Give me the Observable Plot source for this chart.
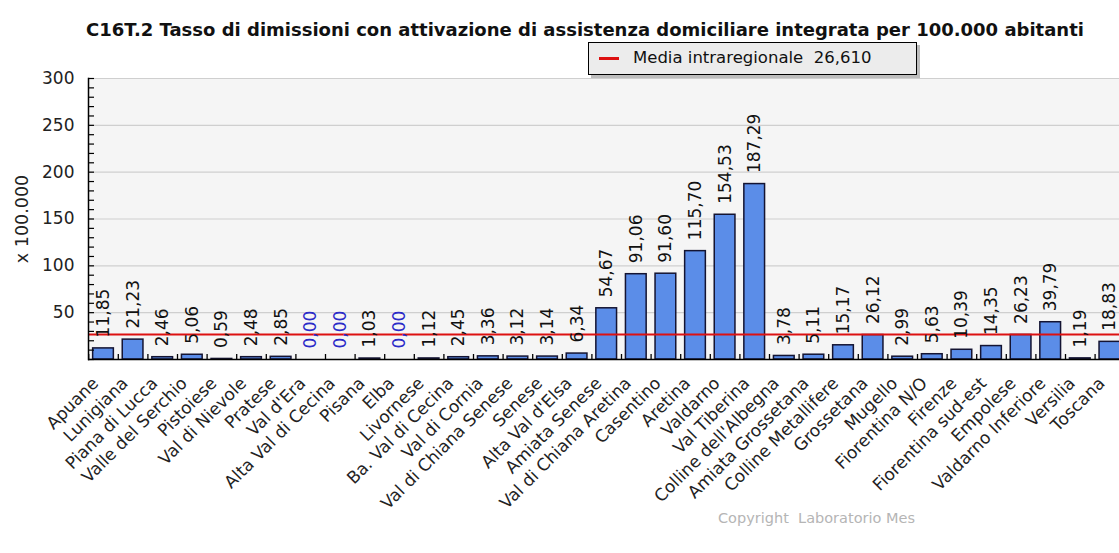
<!DOCTYPE html>
<html>
<head>
<meta charset="utf-8">
<script src="https://cdn.jsdelivr.net/npm/d3@7"></script>
<script src="https://cdn.jsdelivr.net/npm/@observablehq/plot@0.6"></script>
<style>
  html, body { margin: 0; padding: 0; background: #fff; overflow: hidden; }
  #wrap { position: relative; width: 1119px; height: 553px; font-family: "DejaVu Sans", Verdana, sans-serif; }
  #title { position: absolute; left: 0; width: 1170px; top: 19px; text-align: center; font-family: "DejaVu Sans", sans-serif; font-weight: bold; font-size: 18px; color: #111; white-space: nowrap; }
  #legend { position: absolute; left: 588px; top: 42px; width: 327px; height: 31px; background: #ececec; border: 1px solid #000; box-shadow: 3px 3px 0 #bdbdbd; font-size: 16.5px; color: #111; z-index: 2; }
  #legend .sw { position: absolute; left: 10px; top: 14px; width: 20px; height: 3px; background: #dd1111; }
  #legend .tx { position: absolute; left: 44px; top: 5px; white-space: pre; }
  #copy { position: absolute; left: 718px; top: 510px; font-size: 14.5px; color: #b5b5b5; white-space: pre; }
  #chart { position: absolute; left: 0; top: 0; }
</style>
</head>
<body>
<div id="wrap">
  <div id="chart"></div>
  <div id="title">C16T.2 Tasso di dimissioni con attivazione di assistenza domiciliare integrata per 100.000 abitanti</div>
  <div id="legend"><div class="sw"></div><div class="tx">Media intraregionale  26,610</div></div>
  <div id="copy">Copyright  Laboratorio Mes</div>
</div>
<script>
const names = ["Apuane","Lunigiana","Piana di Lucca","Valle del Serchio","Pistoiese","Val di Nievole","Pratese","Val d'Era","Alta Val di Cecina","Pisana","Elba","Livornese","Ba. Val di Cecina","Val di Cornia","Val di Chiana Senese","Senese","Alta Val d'Elsa","Amiata Senese","Val di Chiana Aretina","Casentino","Aretina","Valdarno","Val Tiberina","Colline dell'Albegna","Amiata Grossetana","Colline Metallifere","Grossetana","Mugello","Fiorentina N/O","Firenze","Fiorentina sud-est","Empolese","Valdarno Inferiore","Versilia","Toscana"];
const values = [11.85,21.23,2.46,5.06,0.59,2.48,2.85,0.00,0.00,1.03,0.00,1.12,2.45,3.36,3.12,3.14,6.34,54.67,91.06,91.60,115.70,154.53,187.29,3.78,5.11,15.17,26.12,2.99,5.63,10.39,14.35,26.23,39.79,1.19,18.83];
const meanValue = 26.61;
const yMajor = [50,100,150,200,250,300];
const yMinor = d3.range(0, 301, 10);

const data = names.map((name, i) => ({name, value: values[i]}));
const fmt = v => d3.format(".2f")(v).replace(".", ",");

const chart = Plot.plot({
  width: 1119,
  height: 553,
  marginTop: 78,
  marginBottom: 194,
  marginLeft: 88,
  marginRight: 0,
  style: {fontFamily: "DejaVu Sans, Verdana, sans-serif", fontSize: "17px", color: "#000", background: "transparent", overflow: "visible"},
  x: {domain: names, range: [88.2, 1124.2], paddingInner: 0.3, paddingOuter: 0.15, round: false, axis: null},
  y: {domain: [0, 300], axis: null},
  marks: [
    Plot.frame({fill: "#f5f5f5", stroke: null}),
    Plot.gridY(yMajor, {stroke: "#cfcfcf", strokeOpacity: 1, strokeWidth: 1.2}),
    Plot.barY(data, {x: "name", y: "value", fill: "#5b8de8", stroke: "#141432", strokeWidth: 1.5}),
    Plot.ruleY([meanValue], {x1: () => names[0], x2: () => names[names.length - 1], stroke: "#dd1111", strokeWidth: 2, insetLeft: -4.6, insetRight: -3}),
    Plot.ruleY([0], {stroke: "#000", strokeWidth: 1.5}),
    Plot.frame({anchor: "left", stroke: "#000", strokeWidth: 1.5}),
    Plot.axisX(names, {tickSize: 5, fill: "none", label: null, dx: -14.8, dy: -5, stroke: "#000", strokeWidth: 1.3}),
    Plot.axisY(yMinor, {tickSize: 6, fill: "none", label: null, dx: 6, stroke: "#000", strokeWidth: 1.2}),
    Plot.axisY(yMajor, {tickSize: 0, tickPadding: 14, fontSize: 17, fill: "#222", label: null}),
    Plot.text(["x 100.000"], {frameAnchor: "left", rotate: -90, textAnchor: "middle", dx: -66, fontSize: 17.5, fill: "#222"}),
    Plot.text(data, {x: "name", y: "value", text: d => fmt(d.value), rotate: -90, textAnchor: "start", dy: -11, fontSize: 17, fill: d => d.value === 0 ? "#2b2bc8" : "#111"}),
    Plot.text(data, {x: "name", text: "name", frameAnchor: "bottom", rotate: -45, textAnchor: "end", lineAnchor: "middle", dx: -8, dy: 21, fontSize: 17, fill: "#222"})
  ]
});
document.getElementById("chart").appendChild(chart);
</script>
</body>
</html>
